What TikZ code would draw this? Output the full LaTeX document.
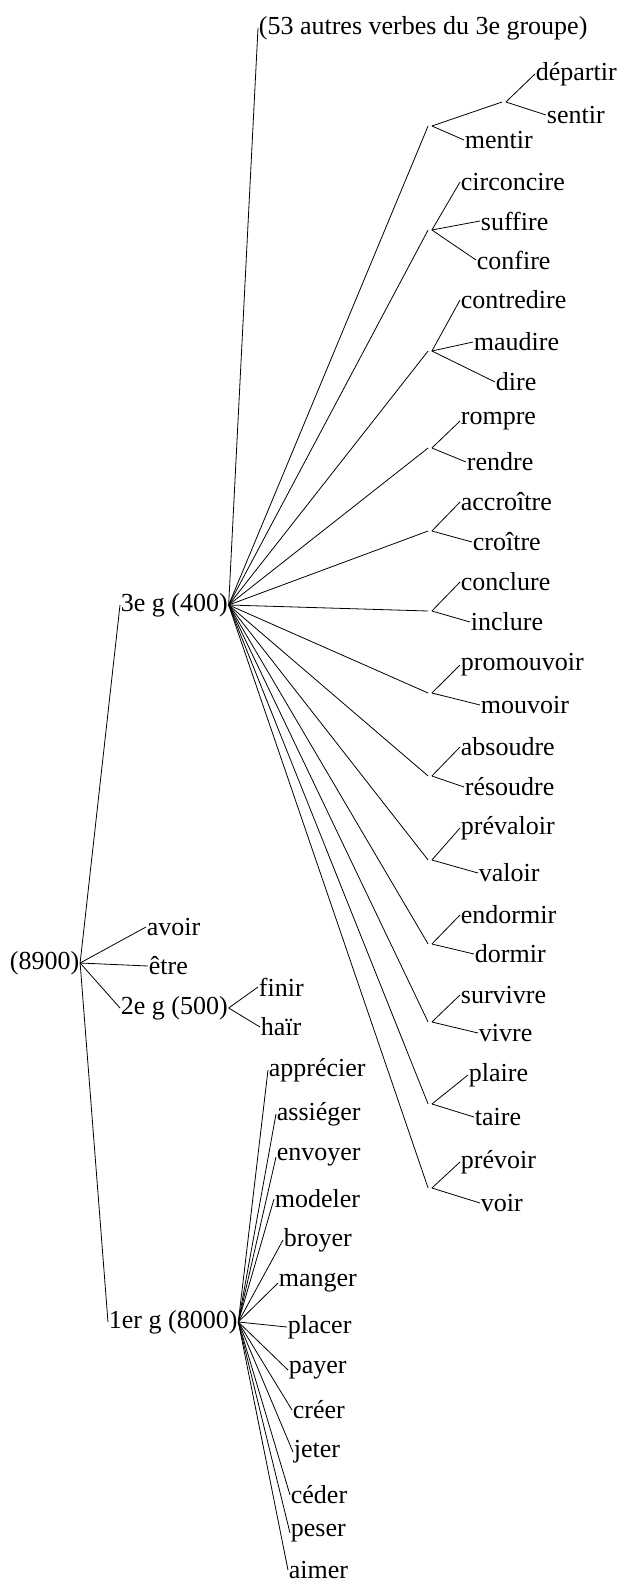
\documentclass[tikz,border=0pt]{standalone}
\usepackage{fontspec}
\setmainfont{Liberation Serif}
\usetikzlibrary{positioning}

\tikzset{
	verbe/.style={anchor=west, inner sep=0.5pt, font=\fontsize{26}{30}\selectfont},
	noeud/.style={inner sep=1.5pt, minimum size=0pt}
}

\begin{document}
\begin{tikzpicture}[x=1pt, y=-1pt, line width=0.8pt]
	\useasboundingbox (0,0) rectangle (624,1584);
	\node [verbe](racine) at (9,963) {(8900)};
	\node [verbe](gtrois) at (120,605) {3e g (400)};
	\node [verbe](avoir) at (146,927) {avoir};
	\node [verbe](etre) at (148,966) {être};
	\node [verbe](gdeux) at (120,1008) {2e g (500)};
	\node [verbe](gun) at (108,1322) {1er g (8000)};
	\draw (racine.east)--(gtrois.west);
	\draw (racine.east)--(avoir.west);
	\draw (racine.east)--(etre.west);
	\draw (racine.east)--(gdeux.west);
	\draw (racine.east)--(gun.west);

	\node [verbe](finir) at (258,987) {finir};
	\node [verbe](hair) at (260,1027) {haïr};
	\draw (gdeux.east)--(finir.west);
	\draw (gdeux.east)--(hair.west);

	\node [verbe](apprecier) at (268,1070) {apprécier};
	\node [verbe](assieger) at (276,1114) {assiéger};
	\node [verbe](envoyer) at (276,1157) {envoyer};
	\node [verbe](modeler) at (274,1199) {modeler};
	\node [verbe](broyer) at (283,1240) {broyer};
	\node [verbe](manger) at (278,1283) {manger};
	\node [verbe](placer) at (287,1327) {placer};
	\node [verbe](payer) at (288,1370) {payer};
	\node [verbe](creer) at (292,1410) {créer};
	\node [verbe](jeter) at (293,1452) {jeter};
	\node [verbe](ceder) at (290,1495) {céder};
	\node [verbe](peser) at (290,1533) {peser};
	\node [verbe](aimer) at (288,1570) {aimer};
	\foreach \v in {apprecier,assieger,envoyer,modeler,broyer,manger,placer,payer,creer,jeter,ceder,peser,aimer}
		\draw (gun.east)--(\v.west);

	\node [verbe](autres) at (258,28) {(53 autres verbes du 3e groupe)};
	\draw (gtrois.east)--(autres.west);

	\node [noeud](nA) at (430,126) {};
	\node [noeud](nAA) at (504,102) {};
	\node [verbe](departir) at (535,74) {départir};
	\node [verbe](sentir) at (546,115) {sentir};
	\node [verbe](mentir) at (464,140) {mentir};
	\draw (gtrois.east)--(nA.west);
	\draw (nA.east)--(nAA.west);
	\draw (nAA.east)--(departir.west);
	\draw (nAA.east)--(sentir.west);
	\draw (nA.east)--(mentir.west);

	\node [noeud](nB) at (430,230) {};
	\node [verbe](circoncire) at (460,182) {circoncire};
	\node [verbe](suffire) at (480,221) {suffire};
	\node [verbe](confire) at (476,260) {confire};
	\draw (gtrois.east)--(nB.west);
	\foreach \v in {circoncire,suffire,confire}
		\draw (nB.east)--(\v.west);

	\node [noeud](nC) at (430,351) {};
	\node [verbe](contredire) at (460,300) {contredire};
	\node [verbe](maudire) at (473,342) {maudire};
	\node [verbe](dire) at (495,382) {dire};
	\draw (gtrois.east)--(nC.west);
	\foreach \v in {contredire,maudire,dire}
		\draw (nC.east)--(\v.west);

	\node [noeud](nD) at (430,448) {};
	\node [verbe](rompre) at (460,421) {rompre};
	\node [verbe](rendre) at (466,462) {rendre};
	\node [noeud](nE) at (430,531) {};
	\node [verbe](accroitre) at (460,502) {accroître};
	\node [verbe](croitre) at (472,542) {croître};
	\node [noeud](nF) at (430,611) {};
	\node [verbe](conclure) at (460,582) {conclure};
	\node [verbe](inclure) at (470,622) {inclure};
	\node [noeud](nG) at (430,693) {};
	\node [verbe](promouvoir) at (460,665) {promouvoir};
	\node [verbe](mouvoir) at (480,705) {mouvoir};
	\node [noeud](nH) at (430,776) {};
	\node [verbe](absoudre) at (460,747) {absoudre};
	\node [verbe](resoudre) at (464,787) {résoudre};
	\node [noeud](nI) at (430,860) {};
	\node [verbe](prevaloir) at (460,828) {prévaloir};
	\node [verbe](valoir) at (478,873) {valoir};
	\node [noeud](nJ) at (430,944) {};
	\node [verbe](endormir) at (460,915) {endormir};
	\node [verbe](dormir) at (474,954) {dormir};
	\node [noeud](nK) at (430,1022) {};
	\node [verbe](survivre) at (460,995) {survivre};
	\node [verbe](vivre) at (478,1033) {vivre};
	\node [noeud](nL) at (430,1104) {};
	\node [verbe](plaire) at (468,1075) {plaire};
	\node [verbe](taire) at (474,1117) {taire};
	\node [noeud](nM) at (430,1188) {};
	\node [verbe](prevoir) at (460,1162) {prévoir};
	\node [verbe](voir) at (480,1203) {voir};
	\foreach \n/\a/\b in {nD/rompre/rendre, nE/accroitre/croitre, nF/conclure/inclure, nG/promouvoir/mouvoir, nH/absoudre/resoudre, nI/prevaloir/valoir, nJ/endormir/dormir, nK/survivre/vivre, nL/plaire/taire, nM/prevoir/voir}{
		\draw (gtrois.east)--(\n.west);
		\draw (\n.east)--(\a.west);
		\draw (\n.east)--(\b.west);
	}
\end{tikzpicture}
\end{document}
